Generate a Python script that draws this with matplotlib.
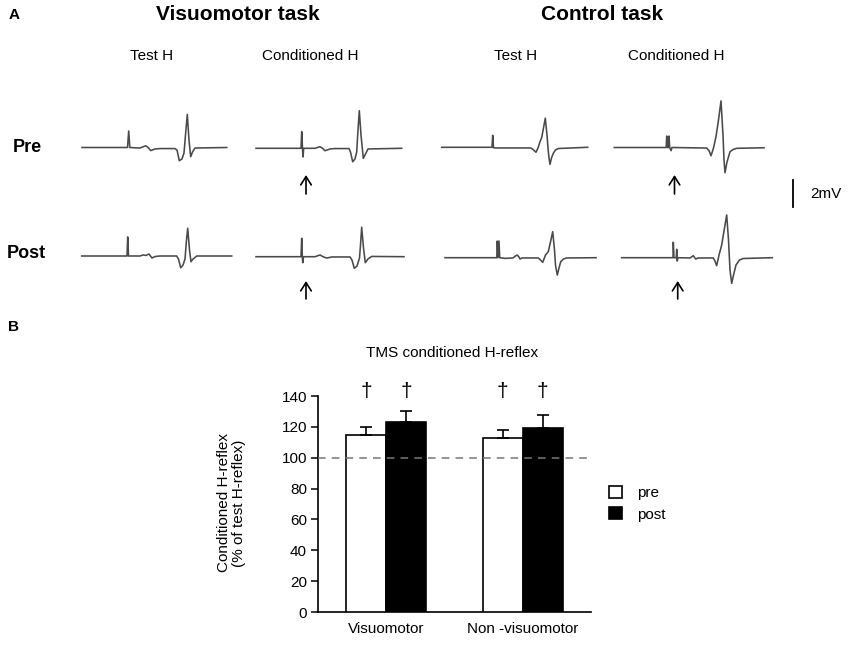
import matplotlib
matplotlib.use("Agg")
import matplotlib.pyplot as plt
from matplotlib.patches import Patch
import numpy as np

plt.rcParams['font.family'] = ['Liberation Sans', 'DejaVu Sans']

# ---------------- Panel A data: EMG traces (time in a.u., amplitude in mV) -------------
vm_test_pre_t = [0, 45.5, 46.7, 47.8, 58, 63.7, 66, 68.7, 73, 78, 93, 95, 97.3, 100, 102, 103.5, 105.3, 107, 108.7, 110.5, 113, 144.7]
vm_test_pre_v = [0, 0, 1.24, 0, -0.04, 0.13, 0, -0.23, -0.11, -0.08, -0.08, -0.19, -0.99, -0.86, -0.41, 0.94, 2.48, 0.56, -0.69, -0.34, -0.04, 0]

vm_cond_pre_t = [0, 45, 45.7, 46.5, 47, 47.7, 59, 64, 66.5, 69, 74, 79, 93, 94.5, 96.7, 99, 100.7, 102, 103.3, 105, 107.3, 109.5, 112, 145.7]
vm_cond_pre_v = [0, 0, 1.25, 0, -0.65, 0, 0, 0.12, 0, -0.18, -0.05, -0.02, -0.02, -0.28, -1.01, -0.80, -0.28, 1.37, 2.82, 1.00, -0.75, -0.43, -0.05, 0]

ct_test_pre_t = [0, 50.3, 51, 51.8, 53.3, 89, 91.3, 94.3, 96.3, 98.3, 100, 101.8, 103.6, 105.3, 106.3, 107.3, 108.3, 109.8, 111.6, 113.8, 116.6, 146]
ct_test_pre_v = [0, 0, 0.9, -0.02, -0.05, -0.05, -0.16, -0.37, -0.05, 0.42, 0.73, 1.45, 2.18, 0.92, -0.05, -0.8, -1.28, -0.8, -0.45, -0.2, -0.09, 0]

ct_cond_pre_t = [0, 51.9, 52.4, 53.2, 54.2, 54.7, 55.4, 56.7, 57.7, 92.4, 94.7, 96.7, 99.2, 101.7, 104.2, 106.7, 108.7, 109.7, 110.7, 112.7, 115.7, 118.7, 122.4, 149.7]
ct_cond_pre_v = [0, 0, 0.86, 0, 0, 0.86, 0, -0.24, 0, -0.04, -0.23, -0.62, -0.04, 0.81, 2.06, 3.49, 0.94, -0.94, -1.89, -1.09, -0.32, -0.15, -0.06, -0.02]

vm_test_post_t = [0, 45.3, 46, 46.8, 53.3, 58.3, 61.6, 64.3, 67.3, 70.3, 73.3, 78.3, 95, 96.8, 99, 101.3, 103.3, 104.8, 106, 107.8, 109.3, 111.3, 115, 150]
vm_test_post_v = [0, 0, 1.43, 0, 0, 0, 0.08, 0.04, 0.15, -0.15, -0.04, 0, 0, -0.23, -0.88, -0.68, -0.23, 1.2, 2.08, 0.45, -0.43, -0.23, 0, 0]

vm_cond_post_t = [0, 45, 45.7, 46.3, 46.8, 47.5, 59, 64, 67, 70.7, 76, 94, 96, 98.3, 101, 103.5, 104.5, 105.7, 107.5, 109.3, 112, 115.7, 148]
vm_cond_post_v = [0, 0, 1.38, 0, -0.45, 0, 0, 0.13, 0, -0.1, -0.02, -0.02, -0.25, -0.87, -0.7, -0.1, 0.88, 2.21, 0.65, -0.45, -0.17, 0.02, 0]

ct_test_post_t = [0, 51.8, 52.3, 53, 54, 54.7, 60, 68, 70.5, 72.3, 74, 75, 77, 93.3, 95.5, 97.7, 100.5, 103.3, 105.5, 107.7, 109.5, 110.5, 112.3, 114, 115.7, 118.5, 121.7, 151]
ct_test_post_v = [0, 0, 1.25, 0, 1.25, 0, -0.05, -0.02, 0.13, 0.2, 0.05, -0.1, -0.02, -0.02, -0.17, -0.35, 0.2, 0.45, 1.18, 1.95, 0.58, -0.55, -1.3, -0.78, -0.3, -0.1, -0.02, 0]

ct_cond_post_t = [0, 51.3, 51.6, 52.3, 54.6, 55, 55.5, 56.3, 68.3, 71.6, 74, 76.3, 91.6, 93.3, 95, 97.3, 100, 102.8, 105, 106.8, 108.3, 110, 111.8, 114.3, 117.8, 121.6, 150.6]
ct_cond_post_v = [0, 0, 1.16, 0, 0, 0.63, -0.25, 0, -0.02, 0.15, -0.1, -0.02, -0.02, -0.25, -0.6, 0.2, 0.95, 2.23, 3.2, 1.33, -0.92, -1.92, -1.31, -0.55, -0.17, -0.06, 0]

scale_bar_mv = 2

# ---------------- Panel B data ----------------
groups = ["Visuomotor", "Non -visuomotor"]
pre_vals = [115, 113]
post_vals = [123, 119]
pre_err = [5, 5]
post_err = [7, 9]
y_ticks = [0, 20, 40, 60, 80, 100, 120, 140]

# ---------------- Figure ----------------
fig = plt.figure(figsize=(8.5, 6.45), dpi=100)

ax0 = fig.add_axes([0, 0, 1, 1])
ax0.set_xlim(0, 850)
ax0.set_ylim(645, 0)
ax0.axis('off')
ax0.patch.set_alpha(0)

sy = 13.35  # px per mV
trace_color = '#4a4a4a'
traces = [
    (vm_test_pre_t, vm_test_pre_v, 82, 147.5),
    (vm_cond_pre_t, vm_cond_pre_v, 256, 148.3),
    (ct_test_pre_t, ct_test_pre_v, 441.7, 147.3),
    (ct_cond_pre_t, ct_cond_pre_v, 614.3, 147.5),
    (vm_test_post_t, vm_test_post_v, 81.7, 256),
    (vm_cond_post_t, vm_cond_post_v, 256, 256.7),
    (ct_test_post_t, ct_test_post_v, 445, 257.7),
    (ct_cond_post_t, ct_cond_post_v, 621.7, 257.7),
]
for t, v, x0, y0 in traces:
    ax0.plot(x0 + np.asarray(t), y0 - sy * np.asarray(v), color=trace_color, lw=1.15,
             solid_joinstyle='round')

# arrows (TMS timing)
for xa, ytail, yhead in [(306, 194, 175), (306, 299, 281), (674.5, 194, 175), (677.7, 299, 281)]:
    ax0.annotate('', xy=(xa, yhead), xytext=(xa, ytail),
                 arrowprops=dict(arrowstyle='->,head_length=0.6,head_width=0.38', color='black', lw=1.2,
                                 shrinkA=0, shrinkB=0))

# scale bar
ax0.plot([793.5, 793.5], [193.5 - sy * scale_bar_mv / 2, 193.5 + sy * scale_bar_mv / 2], color='black', lw=1.3)
ax0.text(810, 193.5, f"{scale_bar_mv}mV", fontsize=11, va='center', ha='left')

# panel A texts
ax0.text(14, 15, "A", fontsize=11, fontweight='bold', ha='center', va='center')
ax0.text(238, 15, "Visuomotor task", fontsize=15, fontweight='bold', ha='center', va='center')
ax0.text(602, 15, "Control task", fontsize=15, fontweight='bold', ha='center', va='center')
for xc, lab in [(152, "Test H"), (310, "Conditioned H"), (516, "Test H"), (676, "Conditioned H")]:
    ax0.text(xc, 56, lab, fontsize=11, ha='center', va='center')
ax0.text(27, 147, "Pre", fontsize=13, fontweight='bold', ha='center', va='center')
ax0.text(26, 253, "Post", fontsize=13, fontweight='bold', ha='center', va='center')
ax0.text(14, 327, "B", fontsize=11, fontweight='bold', ha='center', va='center')
ax0.text(452, 353, "TMS conditioned H-reflex", fontsize=11, ha='center', va='center')

# ---------------- Panel B bar chart ----------------
ax = fig.add_axes([318 / 850, 1 - 612 / 645, 273 / 850, 216 / 645])
x = np.arange(len(groups))
w = 0.293
off = 0.147
ax.bar(x - off, pre_vals, w, color='white', edgecolor='black', lw=1.2,
       yerr=[[0] * len(pre_err), pre_err], capsize=4,
       error_kw=dict(ecolor='black', elinewidth=1.2, capthick=1.2), label='pre', zorder=3)
ax.bar(x + off, post_vals, w, color='black', edgecolor='black', lw=1.2,
       yerr=[[0] * len(post_err), post_err], capsize=4,
       error_kw=dict(ecolor='black', elinewidth=1.2, capthick=1.2), label='post', zorder=3)
ax.axhline(100, color='#777777', lw=1.1, ls=(0, (5, 4)), zorder=4)

for xi in list(x - off) + list(x + off):
    ax.text(xi, 143, "†", fontsize=15, ha='center', va='center', clip_on=False)

ax.set_xlim(-0.5, 1.5)
ax.set_ylim(0, 140)
ax.set_yticks(y_ticks)
ax.set_xticks(x)
ax.set_xticklabels(groups, fontsize=11)
ax.tick_params(axis='x', length=0, pad=7)
ax.tick_params(axis='y', direction='out', length=5, width=1.1, labelsize=11, pad=3)
for s in ['top', 'right']:
    ax.spines[s].set_visible(False)
ax.spines['left'].set_linewidth(1.2)
ax.spines['bottom'].set_linewidth(1.2)
ax.set_ylabel("Conditioned H-reflex\n(% of test H-reflex)", fontsize=11, linespacing=1.1)
ax.yaxis.set_label_coords(-0.265, 0.505)

handles = [Patch(facecolor='white', edgecolor='black', lw=1.2, label='pre'),
           Patch(facecolor='black', edgecolor='black', lw=1.2, label='post')]
fig.legend(handles=handles, loc='upper left', bbox_to_anchor=(609 / 850, 1 - 486 / 645),
           frameon=False, fontsize=11, handlelength=0.85, handleheight=0.85,
           handletextpad=1.0, labelspacing=0.45, borderaxespad=0, borderpad=0)

fig.savefig("out.png", dpi=100)
